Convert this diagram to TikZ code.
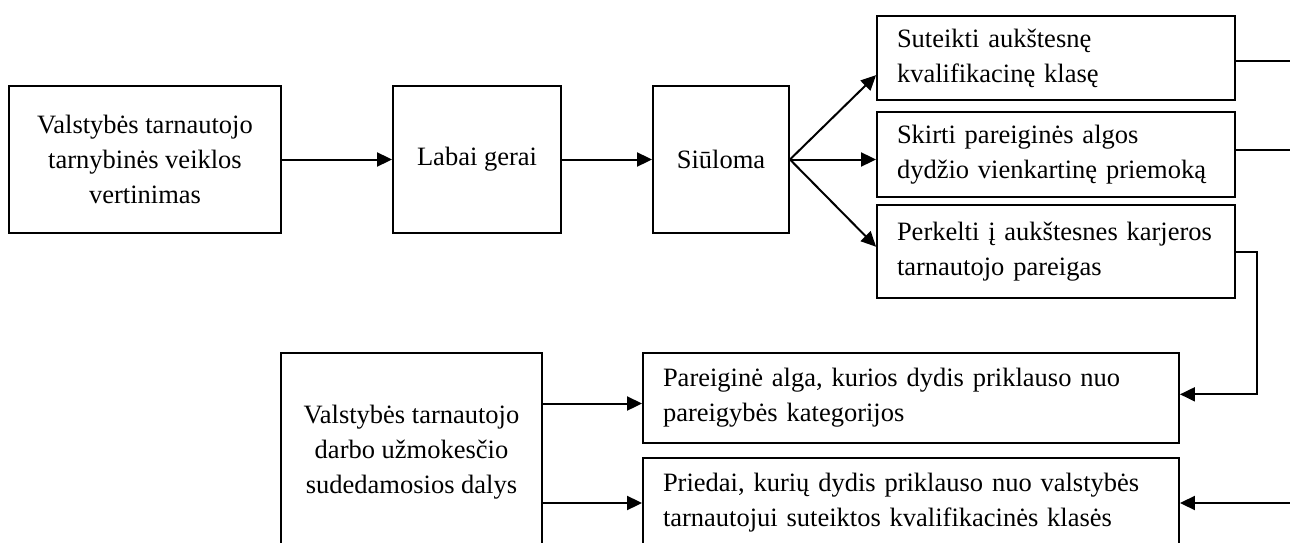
\documentclass[tikz,border=0pt]{standalone}
\usepackage{fontspec}
\setmainfont{Liberation Serif}
\usetikzlibrary{arrows.meta,calc}

\begin{document}
\begin{tikzpicture}[x=1pt,y=-1pt,
  box/.style={draw,line width=1.9pt,inner sep=0pt,
    font=\fontsize{26.5}{35}\selectfont},
  cbox/.style={box,align=center},
  lbox/.style={box,align=left,inner xsep=20pt},
  ln/.style={line width=2pt},
  arr/.style={ln,-{Triangle[length=15pt,width=14pt]}}]
\useasboundingbox (0,0) rectangle (1290,543);
\clip (0,0) rectangle (1290,543);

% evaluation chain
\node[cbox,minimum width=272pt,minimum height=147pt] (b1) at (145,159.5)
  {Valstybės tarnautojo\\tarnybinės veiklos\\vertinimas};
\node[cbox,minimum width=168pt,minimum height=147pt] (b2) at (477,159.5)
  {Labai gerai};
\node[cbox,minimum width=136pt,minimum height=147pt] (b3) at (721,159.5)
  {Siūloma};

% proposals
\node[lbox,text width=318pt,minimum height=84pt] (b4) at (1056,58)
  {Suteikti aukštesnę\\kvalifikacinę klasę};
\node[lbox,text width=318pt,minimum height=85pt] (b5) at (1056,154.5)
  {Skirti pareiginės algos\\dydžio vienkartinę priemoką};
\node[lbox,text width=318pt,minimum height=93pt] (b6) at (1056,251.5)
  {Perkelti į aukštesnes karjeros\\tarnautojo pareigas};

% pay components
\node[cbox,minimum width=261pt,minimum height=198pt] (b7) at (411.5,452)
  {Valstybės tarnautojo\\darbo užmokesčio\\sudedamosios dalys};
\node[lbox,text width=496pt,minimum height=90pt] (b8) at (911,398)
  {Pareiginė alga, kurios dydis priklauso nuo\\pareigybės kategorijos};
\node[lbox,text width=496pt,minimum height=90pt] (b9) at (911,503)
  {Priedai, kurių dydis priklauso nuo valstybės\\tarnautojui suteiktos kvalifikacinės klasės};

% connectors
\draw[arr] (b1) -- (b2);
\draw[arr] (b2) -- (b3);
\draw[arr] (b3.east) -- ($(b4.north west)!0.7!(b4.south west)$);
\draw[arr] (b3.east) -- (b3.east -| b5.west);
\draw[arr] (b3.east) -- ($(b6.north west)!0.45!(b6.south west)$);

\coordinate (s4) at ($(b4.north east)!0.54!(b4.south east)$);
\coordinate (s5) at ($(b5.north east)!0.45!(b5.south east)$);
\draw[ln] (s4) -- ++(55,0) coordinate (e4);
\draw[ln] (s5) -- ++(55,0) coordinate (e5);

\coordinate (t8) at ($(b8.north east)!0.46!(b8.south east)$);
\draw[arr] (b6.east) -- ++(21,0) |- (t8);
\coordinate (e9) at ([xshift=111pt]b9.east);
\draw[arr] (e9) -- (b9.east);

\coordinate (w8) at ($(b8.north west)!0.56!(b8.south west)$);
\draw[arr] (b7.east |- w8) -- (w8);
\draw[arr] (b7.east |- b9.west) -- (b9.west);
\end{tikzpicture}
\end{document}
